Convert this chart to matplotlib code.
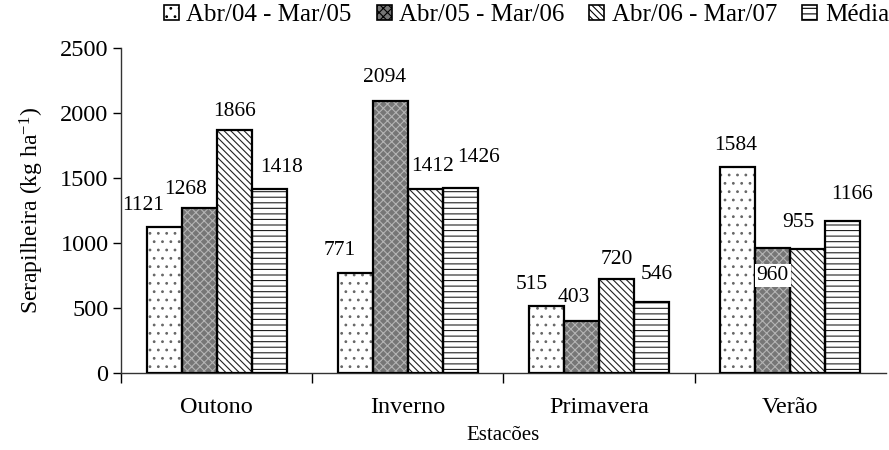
import matplotlib
matplotlib.use("Agg")
import matplotlib.pyplot as plt
import numpy as np
from matplotlib.patches import Patch

plt.rcParams['font.family'] = ['Liberation Serif', 'DejaVu Serif']
plt.rcParams['mathtext.fontset'] = 'custom'
plt.rcParams['mathtext.rm'] = 'Liberation Serif'
plt.rcParams['mathtext.it'] = 'Liberation Serif:italic'
plt.rcParams['hatch.linewidth'] = 0.8

categories = ['Outono', 'Inverno', 'Primavera', 'Verão']
series_names = ['Abr/04 - Mar/05', 'Abr/05 - Mar/06', 'Abr/06 - Mar/07', 'Média']
s1 = [1121, 771, 515, 1584]
s2 = [1268, 2094, 403, 960]
s3 = [1866, 1412, 720, 955]
s4 = [1418, 1426, 546, 1166]
series = [s1, s2, s3, s4]
yticks = [0, 500, 1000, 1500, 2000, 2500]

# styles
faces = ['white', '#767676', 'white', 'white']
hatch_colors = ['#666666', '#b4b4b4', '#222222', '#222222']
hatches = ['..', 'xxxx', '\\\\\\\\\\', '---']
# label offsets in pixels (dx, dy) relative to bar top centre
label_dx = [[-21, -16, -15, -2], [-14, -6, -8, 0], [0, 7, 0, -9], [12, 18, 5, 9]]
label_dy = [[22, 22, 22, 22], [19, 23, 23, -27], [19, 23, 20, 26], [21, 30, 28, 27]]

fig = plt.figure(figsize=(8.89, 4.5), dpi=100)
ax = fig.add_axes([0.1361, 0.1711, 0.8605, 0.7222])

x = np.arange(len(categories))
w = 0.183
offsets = (np.arange(4) - 1.5) * w
for i, vals in enumerate(series):
    xs = x + offsets[i]
    ax.bar(xs, vals, w, color=faces[i], edgecolor=hatch_colors[i], hatch=hatches[i], linewidth=0, zorder=2)
    ax.bar(xs, vals, w, color='none', edgecolor='black', linewidth=1.6, zorder=3)
    for j, v in enumerate(vals):
        bbox = None
        if label_dy[i][j] < 0:
            bbox = dict(facecolor='white', edgecolor='none', pad=1.5)
        ax.annotate(str(v), (xs[j], v), xytext=(label_dx[i][j], label_dy[i][j]),
                    textcoords='offset pixels', ha='center', va='center',
                    fontsize=15.5, zorder=5, bbox=bbox)

ax.set_xlim(-0.5, 3.5)
ax.set_ylim(0, 2500)
ax.set_yticks(yticks)
ax.set_yticklabels([str(t) for t in yticks], fontsize=17.5)
ax.set_xticks(x)
ax.set_xticklabels(categories, fontsize=17.5)
ax.set_xticks([-0.5, 0.5, 1.5, 2.5], minor=True)
ax.tick_params(axis='x', which='major', length=0, pad=17)
ax.tick_params(axis='x', which='minor', length=7, width=1, direction='out')
ax.tick_params(axis='y', length=6, width=1, direction='out', pad=3)
for s in ['top', 'right']:
    ax.spines[s].set_visible(False)
for s in ['left', 'bottom']:
    ax.spines[s].set_linewidth(1.0)
    ax.spines[s].set_color('#333333')

ax.set_xlabel('Estacões', fontsize=15, labelpad=6)
ax.set_ylabel('Serapilheira (kg ha$^{-1}$)', fontsize=17, labelpad=10)

handles = [Patch(facecolor=faces[i], edgecolor='black', hatch=hatches[i], linewidth=1.2) for i in range(4)]
fig.legend(handles, series_names, loc='center', bbox_to_anchor=(0.592, 0.966), ncol=4,
           frameon=False, fontsize=18, handlelength=0.6, handleheight=0.6,
           handletextpad=0.3, columnspacing=1.0, borderaxespad=0)

fig.savefig('out.png', dpi=100)
